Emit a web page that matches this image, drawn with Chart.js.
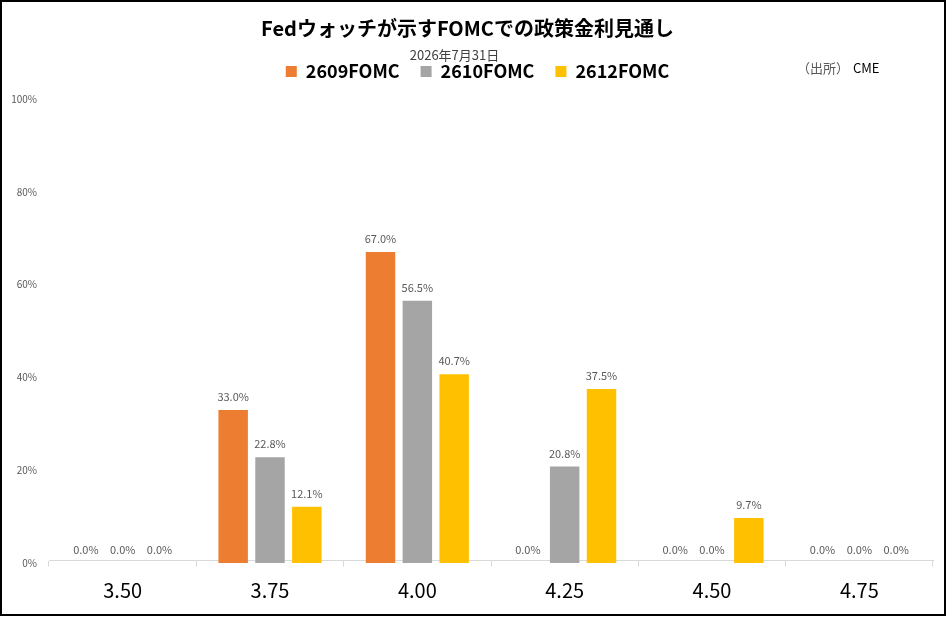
<!DOCTYPE html>
<html>
<head>
<meta charset="utf-8">
<script src="https://cdn.jsdelivr.net/npm/chart.js@4"></script>
<style>
  body { margin: 0; background: #fff; }
  #frame { position: absolute; left: 0; top: 0; width: 946px; height: 616px; border: 2px solid #000; box-sizing: border-box; }
  canvas { display: block; }
</style>
</head>
<body>
<div id="frame"><canvas id="fedwatch" width="942" height="612"></canvas></div>
<script>
// 政策金利（上限）ごとの確率
const rates = ["3.50", "3.75", "4.00", "4.25", "4.50", "4.75"];
const fomc2609 = [0.0, 33.0, 67.0, 0.0, 0.0, 0.0];
const fomc2610 = [0.0, 22.8, 56.5, 20.8, 0.0, 0.0];
const fomc2612 = [0.0, 12.1, 40.7, 37.5, 9.7, 0.0];
const yTicks = [0, 20, 40, 60, 80, 100];

const jpFont = "'Noto Sans CJK JP', 'Noto Sans', sans-serif";

// 棒の上に値を表示
const valueLabels = {
    id: 'valueLabels',
    afterDatasetsDraw(chart) {
        const ctx = chart.ctx;
        ctx.save();
        ctx.font = "11px " + jpFont;
        ctx.fillStyle = '#595959';
        ctx.textAlign = 'center';
        ctx.textBaseline = 'middle';
        chart.data.datasets.forEach((ds, i) => {
            chart.getDatasetMeta(i).data.forEach((bar, j) => {
                ctx.fillText(ds.data[j].toFixed(1) + '%', bar.x, bar.y - 13);
            });
        });
        ctx.restore();
    }
};

// 出所
const sourceNote = {
    id: 'sourceNote',
    afterDraw(chart) {
        const ctx = chart.ctx;
        ctx.save();
        ctx.font = "13px " + jpFont;
        ctx.textBaseline = 'middle';
        ctx.fillStyle = '#595959';
        ctx.fillText('（出所）', 795, 66);
        ctx.fillStyle = '#000';
        ctx.fillText('CME', 851, 66);
        ctx.restore();
    }
};

// 凡例を少し右へ寄せ、下の余白を調整
const legendGap = {
    id: 'legendGap',
    beforeLayout(chart) {
        const legend = chart.legend;
        if (legend && !legend._gapPatched) {
            const fit = legend.fit;
            legend.fit = function () {
                fit.call(this);
                this.height += 6;
                if (this.lineWidths && this.lineWidths.length) this.lineWidths[0] -= 20;
            };
            legend._gapPatched = true;
        }
    }
};

new Chart(document.getElementById('fedwatch'), {
    type: 'bar',
    data: {
        labels: rates,
        datasets: [
            { label: '2609FOMC', data: fomc2609, backgroundColor: '#ED7D31' },
            { label: '2610FOMC', data: fomc2610, backgroundColor: '#A5A5A5' },
            { label: '2612FOMC', data: fomc2612, backgroundColor: '#FFC000' }
        ]
    },
    options: {
        responsive: false,
        animation: false,
        layout: { padding: { top: 0, right: 11, bottom: 4, left: 0 } },
        datasets: { bar: { categoryPercentage: 0.75, barPercentage: 0.8 } },
        plugins: {
            title: {
                display: true,
                text: 'Fedウォッチが示すFOMCでの政策金利見通し',
                color: '#000',
                font: { family: jpFont, size: 20, weight: 'bold' },
                padding: { top: 14, bottom: 4 }
            },
            subtitle: {
                display: true,
                text: '2026年7月31日　　',
                color: '#404040',
                font: { family: jpFont, size: 13 },
                padding: { top: 3, bottom: -21 }
            },
            legend: {
                position: 'top',
                labels: {
                    color: '#000',
                    font: { family: jpFont, size: 18, weight: 'bold' },
                    boxWidth: 11,
                    boxHeight: 11,
                    padding: 21
                }
            },
            tooltip: { enabled: false }
        },
        scales: {
            x: {
                grid: { display: true, offset: true, drawOnChartArea: false, tickLength: 6, color: '#d9d9d9' },
                border: { color: '#d9d9d9' },
                ticks: { color: '#000', padding: 12, font: { family: jpFont, size: 20 } },
                afterFit(scale) { scale.height = 47; }
            },
            y: {
                min: 0,
                max: 100,
                afterBuildTicks(scale) { scale.ticks = yTicks.map(v => ({ value: v })); },
                grid: { display: false },
                border: { display: false },
                ticks: {
                    color: '#595959',
                    padding: 4,
                    font: { family: jpFont, size: 10 },
                    callback: v => v + '%'
                },
                afterFit(scale) { scale.width = 47; }
            }
        }
    },
    plugins: [valueLabels, sourceNote, legendGap]
});
</script>
</body>
</html>
